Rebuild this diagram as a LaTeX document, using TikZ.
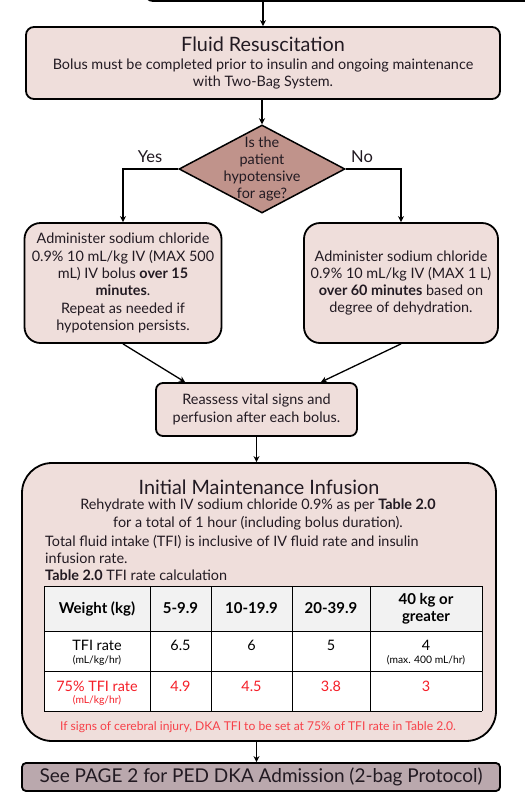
\documentclass[tikz,border=0pt]{standalone}
\usepackage{fontspec}
\setmainfont{Lato}
\usetikzlibrary{shapes.geometric,arrows.meta}

\definecolor{boxfill}{RGB}{239,222,219}
\definecolor{diafill}{RGB}{192,147,139}
\definecolor{nextfill}{RGB}{186,168,173}
\definecolor{inkc}{RGB}{34,26,34}
\definecolor{tfired}{RGB}{245,30,40}
\definecolor{headfill}{RGB}{242,242,242}

\newcommand\txtfont{\fontsize{14.4pt}{17.3pt}\selectfont}
\newcommand\headfont{\fontsize{19.8pt}{22pt}\selectfont}
\newcommand\smallfont{\fontsize{10.3pt}{12pt}\selectfont}
\newcommand\notefont{\fontsize{12.1pt}{14pt}\selectfont}

\tikzset{
  box/.style={draw=black, fill=boxfill, line width=1.8pt, rounded corners=8pt,
    inner sep=0pt, align=center, text=inkc, font=\txtfont},
  decision/.style={draw=black, fill=diafill, line width=1.5pt, diamond,
    minimum width=166pt, minimum height=88pt, inner sep=0pt},
  txt/.style={inner sep=0pt, align=center, text=inkc, font=\txtfont},
  cell/.style={inner sep=0pt, align=center, text=black, font=\txtfont},
  arr/.style={-{Stealth[length=6pt,width=6pt]}, line width=1.3pt},
}

\begin{document}
\begin{tikzpicture}[x=1pt, y=-1pt]
  \useasboundingbox (0,0) rectangle (525,804);
  \fill[white] (0,0) rectangle (525,804);

  % boxes
  \node[box, minimum width=400pt, minimum height=42pt] (prev) at (345,-20) {};
  \node[box, minimum width=474pt, minimum height=72pt] (resus) at (263,63)
    {{\headfont Fluid Resuscitation}\\[1pt]
     Bolus must be completed prior to insulin and ongoing maintenance\\[-1pt]
     with Two-Bag System.};
  \node[decision] (decide) at (262,169) {};
  \node[txt] (question) at (decide.center)
    {Is the\\patient\\hypotensive\\for age?};
  \node[box, rounded corners=16pt, minimum width=197pt, minimum height=120pt] (yesbox) at (123,283)
    {Administer sodium chloride\\0.9\% 10 mL/kg IV (MAX 500\\mL) IV bolus \textbf{over 15}\\
     \textbf{minutes}.\\Repeat as needed if\\hypotension persists.};
  \node[box, rounded corners=16pt, minimum width=194pt, minimum height=120pt] (nobox) at (401,283)
    {Administer sodium chloride\\0.9\% 10 mL/kg IV (MAX 1 L)\\\textbf{over 60 minutes} based on\\
     degree of dehydration.};
  \node[box, rounded corners=7pt, minimum width=201pt, minimum height=53pt] (reassess) at (256.5,409.5)
    {Reassess vital signs and\\perfusion after each bolus.};
  \node[box, rounded corners=30pt, minimum width=474pt, minimum height=278pt] (maint) at (259,602) {};
  \node[box, fill=nextfill, rounded corners=4pt, minimum width=478pt, minimum height=28pt] (next) at (261,777)
    {\fontsize{19pt}{21pt}\selectfont See PAGE 2 for PED DKA Admission (2-bag Protocol)};

  % labels of the branches
  \node[txt, font=\fontsize{16.5pt}{18pt}\selectfont] (yeslbl) at (150,157) {Yes};
  \node[txt, font=\fontsize{16.5pt}{18pt}\selectfont] (nolbl) at (362,157) {No};

  % connectors
  \draw[arr] (prev.south -| resus.north) -- (resus.north);
  \draw[arr] (resus.south -| decide.north) -- (decide.north);
  \draw[arr] (decide.west) -| (yesbox.north);
  \draw[arr] (decide.east) -| (nobox.north);
  \draw[arr] (yesbox.south) -- ([xshift=30pt]reassess.north west);
  \draw[arr] (nobox.south) -- ([xshift=-37pt]reassess.north east);
  \draw[arr] (reassess.south) -- (reassess.south |- maint.north);
  \draw[arr] (reassess.south |- maint.south) -- (reassess.south |- next.north);

  % maintenance text
  \node[txt] (mtitle) at (259,487) {\headfont Initial Maintenance Infusion};
  \node[txt] (mrate) at (258,514.5)
    {Rehydrate with IV sodium chloride 0.9\% as per \textbf{Table 2.0}\\
     for a total of 1 hour (including bolus duration).};
  \node[txt, anchor=west, align=left] (mtfi) at (45,558)
    {Total fluid intake (TFI) is inclusive of IV fluid rate and insulin\\
     infusion rate.\\\textbf{Table 2.0} TFI rate calculation};

  % table 2.0
  \fill[headfill] (44,586) rectangle (482,631);
  \fill[white] (44,631) rectangle (482,711);
  \foreach \y in {586,631,671,711}
    \draw[line width=0.9pt] (44,\y) -- (482,\y);
  \foreach \x in {44,150,211,292,370,482}
    \draw[line width=0.9pt] (\x,586) -- (\x,711);

  \foreach \x/\t [count=\i] in {97/Weight (kg), 180.5/5-9.9, 251.5/10-19.9, 331/20-39.9}
    \node[cell, font=\fontsize{15pt}{17pt}\selectfont\bfseries] (head\i) at (\x,608.5) {\t};
  \node[cell, font=\fontsize{15pt}{17pt}\selectfont\bfseries] (head5) at (426,608.5) {40 kg or\\greater};

  \node[cell] (tfi) at (97,645) {TFI rate};
  \node[cell, font=\smallfont] (tfiunit) at (97,660) {(mL/kg/hr)};
  \foreach \x/\t [count=\i] in {180.5/6.5, 251.5/6, 331/5, 426/4}
    \node[cell] (tfi\i) at (\x,645) {\t};
  \node[cell, font=\smallfont] (tfimax) at (426,660) {(max. 400 mL/hr)};

  \node[cell, text=tfired] (low) at (97,686) {75\% TFI rate};
  \node[cell, text=tfired, font=\smallfont] (lowunit) at (97,700) {(mL/kg/hr)};
  \foreach \x/\t [count=\i] in {180.5/4.9, 251.5/4.5, 331/3.8, 426/3}
    \node[cell, text=tfired] (low\i) at (\x,686) {\t};

  \node[txt, text=tfired!85, font=\notefont] (note) at (258,727)
    {If signs of cerebral injury, DKA TFI to be set at 75\% of TFI rate in Table 2.0.};
\end{tikzpicture}
\end{document}
